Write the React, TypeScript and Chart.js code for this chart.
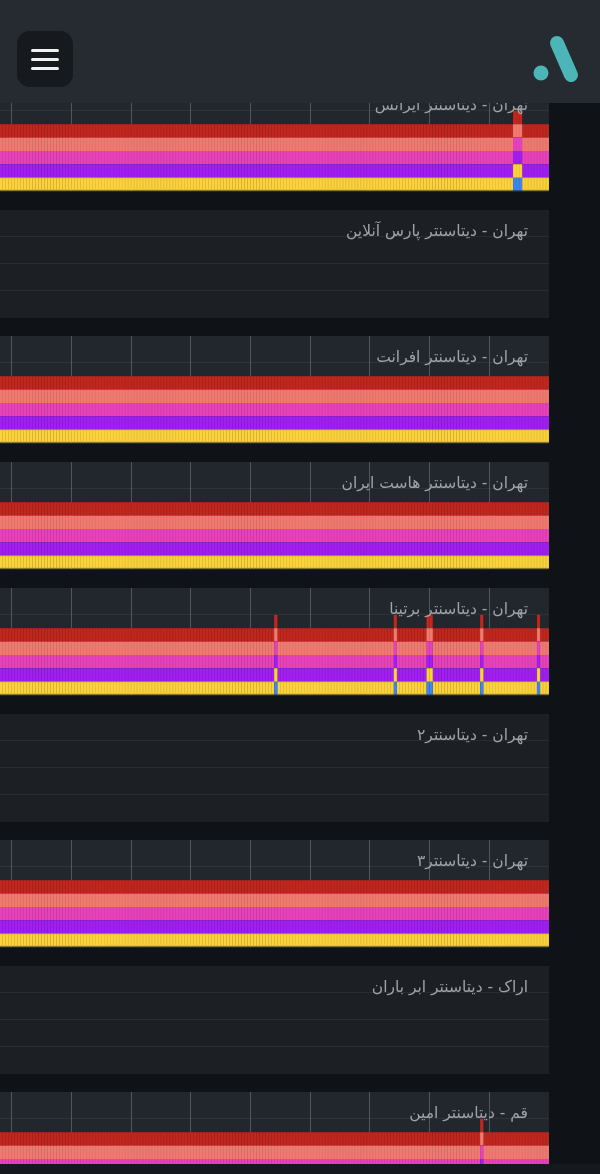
import React, { useEffect, useRef } from "react";
import { Chart, registerables } from "chart.js";

Chart.register(...registerables);

// ---- data ----
const PANEL_TITLES = [
  "تهران - دیتاسنتر ایرانس",
  "تهران - دیتاسنتر پارس آنلاین",
  "تهران - دیتاسنتر افرانت",
  "تهران - دیتاسنتر هاست ایران",
  "تهران - دیتاسنتر برتینا",
  "تهران - دیتاسنتر۲",
  "تهران - دیتاسنتر۳",
  "اراک - دیتاسنتر ابر باران",
  "قم - دیتاسنتر امین",
];
const PANEL_HAS_DATA = [true, false, true, true, true, false, true, false, true];
const PANEL_SPIKES: number[][] = [
  [188, 189, 190],
  [],
  [],
  [],
  [108, 148, 159, 160, 177, 196],
  [],
  [],
  [],
  [177],
];
const BAR_COUNT = 200;
const SEGMENT_VALUE = 0.5;
const Y_MAX = 4;
const GRID_EVERY = 20;
const CATEGORIES = Array.from({ length: BAR_COUNT }, (_, i) => {
  const m = i * 5;
  return String(Math.floor(m / 60) % 24).padStart(2, "0") + ":" + String(m % 60).padStart(2, "0");
});
const SERIES_NAMES = ["blue", "yellow", "purple", "pink", "salmon", "red"];
const SERIES_COLORS = ["#3f86ee", "#fbd33d", "#a11ff0", "#e842bb", "#f07a70", "#c0271f"];
const SERIES_EDGES = ["#2f6cc8", "#d2ad2e", "#8a1ad0", "#c83aa2", "#d86c63", "#a32019"];

function buildDatasets(spikes: number[]) {
  return SERIES_NAMES.map((name, s) => ({
    label: name,
    data: CATEGORIES.map((_, i) =>
      s === 0 ? (spikes.includes(i) ? SEGMENT_VALUE : null) : SEGMENT_VALUE
    ),
    backgroundColor: SERIES_COLORS[s],
    borderColor: SERIES_EDGES[s],
    borderWidth: s === 1 ? { top: 1, bottom: 1, left: 0.5, right: 0.5 } : { top: 0, bottom: 0, left: 0.5, right: 0.5 },
    borderSkipped: false as any,
    barPercentage: 1,
    categoryPercentage: 1,
  }));
}

function PanelChart({ hasData, spikes }: { hasData: boolean; spikes: number[] }) {
  const ref = useRef<HTMLCanvasElement | null>(null);
  useEffect(() => {
    if (!ref.current) return;
    const chart = new Chart(ref.current, {
      type: "bar",
      data: {
        labels: hasData ? CATEGORIES : [],
        datasets: hasData ? (buildDatasets(spikes) as any) : [],
      },
      options: {
        animation: false,
        responsive: true,
        maintainAspectRatio: false,
        layout: { padding: 0 },
        plugins: { legend: { display: false }, tooltip: { enabled: false }, title: { display: false } },
        scales: {
          x: {
            stacked: true,
            ticks: { display: false },
            grid: {
              drawTicks: false,
              offset: true,
              lineWidth: 1,
              color: (ctx: any) =>
                ctx.index === undefined || ctx.index % GRID_EVERY === 0 ? "rgba(255,255,255,0.22)" : "transparent",
            },
            border: { display: false },
          },
          y: {
            stacked: true,
            min: 0,
            max: Y_MAX,
            ticks: { display: false, stepSize: 1 },
            grid: {
              drawTicks: false,
              lineWidth: 1,
              color: (ctx: any) =>
                ctx.tick && (ctx.tick.value === 0 || ctx.tick.value === Y_MAX) ? "transparent" : "rgba(255,255,255,0.06)",
            },
            border: { display: false },
          },
        },
      },
    });
    return () => chart.destroy();
  }, [hasData, spikes]);
  return <canvas ref={ref} />;
}

export default function App() {
  useEffect(() => {
    document.body.style.margin = "0";
    document.body.style.background = "#0f1216";
  }, []);
  const PANEL_TOP = 84;
  const PANEL_STEP = 126;
  const PANEL_H = 108;
  return (
    <div style={{ position: "relative", width: 600, height: 1174, overflow: "hidden", background: "#0f1216", fontFamily: "'DejaVu Sans', sans-serif" }}>
      {PANEL_TITLES.map((title, k) => (
        <div
          key={k}
          style={{
            position: "absolute",
            left: 0,
            top: PANEL_TOP + k * PANEL_STEP,
            width: 549,
            height: PANEL_H,
            background: PANEL_HAS_DATA[k] ? "#22262d" : "#1c1f24",
            overflow: "hidden",
          }}
        >
          <div style={{ position: "absolute", left: -48, top: 0, width: 597, height: 107 }}>
            <PanelChart hasData={PANEL_HAS_DATA[k]} spikes={PANEL_SPIKES[k]} />
          </div>
          <div
            dir="rtl"
            style={{
              position: "absolute",
              right: 21,
              top: 10,
              lineHeight: "22px",
              fontSize: 15.5,
              color: "#9ea3a9",
              whiteSpace: "nowrap",
            }}
          >
            {title}
          </div>
        </div>
      ))}
      <div style={{ position: "absolute", left: 0, top: 0, width: 600, height: 103, background: "#262b32", zIndex: 5 }}>
        <div style={{ position: "absolute", left: 17, top: 31, width: 56, height: 56, borderRadius: 13, background: "#16191e" }}>
          {[18, 27, 36].map((y) => (
            <div key={y} style={{ position: "absolute", left: 14, top: y, width: 28, height: 3, borderRadius: 2, background: "#f2f2f2" }} />
          ))}
        </div>
        <svg style={{ position: "absolute", left: 525, top: 30, width: 60, height: 60 }} viewBox="525 30 60 60">
          <circle cx={541} cy={73} r={7.5} fill="#4bb5b7" />
          <line x1={557} y1={43} x2={571} y2={75} stroke="#4bb5b7" strokeWidth={14} strokeLinecap="round" />
        </svg>
      </div>
      <div style={{ position: "absolute", left: 0, top: 1164, width: 600, height: 10, background: "#15181c", zIndex: 5 }} />
    </div>
  );
}
